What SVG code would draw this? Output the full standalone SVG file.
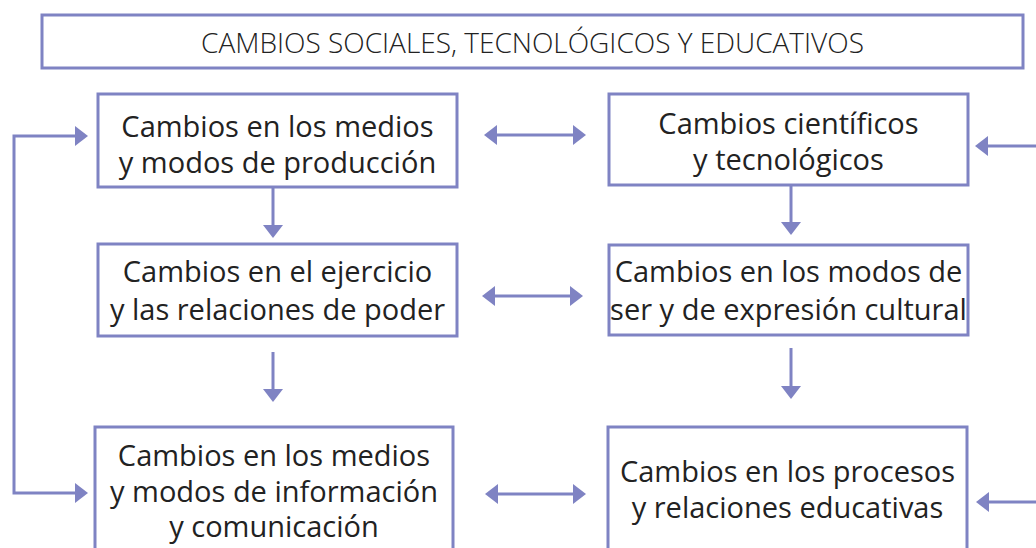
<svg xmlns="http://www.w3.org/2000/svg" width="1036" height="548" viewBox="0 0 1036 548">
<defs>
<style>
.box{fill:#fff;stroke:#7f83c3;stroke-width:3}
.t{font-family:"Open Sans","Liberation Sans",sans-serif;font-size:29px;fill:#222;text-anchor:middle}
.title{font-family:"Open Sans","Liberation Sans",sans-serif;font-weight:300;font-size:28px;fill:#222;text-anchor:middle}
.c{stroke:#7f83c3;stroke-width:3;fill:none}
.ah{fill:#7f83c3}
</style>
<marker id="a" markerUnits="userSpaceOnUse" markerWidth="14" markerHeight="20" refX="5" refY="10" orient="auto-start-reverse" viewBox="0 0 14 20">
<path class="ah" d="M0,0 L13,10 L0,20 z"/>
</marker>
</defs>
<rect width="1036" height="548" fill="#fff"/>
<g id="title">
<rect class="box" x="42" y="15" width="981" height="53"/>
<text class="title" x="532.5" y="53">CAMBIOS SOCIALES, TECNOLÓGICOS Y EDUCATIVOS</text>
</g>
<g id="connectors">
<line class="c" x1="492" y1="135" x2="578" y2="135" marker-start="url(#a)" marker-end="url(#a)"/>
<line class="c" x1="490" y1="296" x2="575" y2="296" marker-start="url(#a)" marker-end="url(#a)"/>
<line class="c" x1="493" y1="494" x2="578" y2="494" marker-start="url(#a)" marker-end="url(#a)"/>
<line class="c" x1="1040" y1="146" x2="983" y2="146" marker-end="url(#a)"/>
<line class="c" x1="1040" y1="502" x2="984" y2="502" marker-end="url(#a)"/>
<line class="c" x1="273" y1="187" x2="273" y2="230" marker-end="url(#a)"/>
<line class="c" x1="791" y1="185" x2="791" y2="227" marker-end="url(#a)"/>
<line class="c" x1="273" y1="352" x2="273" y2="394" marker-end="url(#a)"/>
<line class="c" x1="791" y1="348" x2="791" y2="391" marker-end="url(#a)"/>
<polyline class="c" points="80,136 14,136 14,493 80,493" marker-start="url(#a)" marker-end="url(#a)"/>
</g>
<g id="n1">
<rect class="box" x="98" y="94" width="359" height="93"/>
<text class="t" x="277.5" y="137">Cambios en los medios</text>
<text class="t" x="277.5" y="173">y modos de producción</text>
</g>
<g id="n2">
<rect class="box" x="609" y="94" width="359" height="91"/>
<text class="t" x="788.5" y="134">Cambios científicos</text>
<text class="t" x="788.5" y="170">y tecnológicos</text>
</g>
<g id="n3">
<rect class="box" x="98" y="244" width="359" height="92"/>
<text class="t" x="277.5" y="282">Cambios en el ejercicio</text>
<text class="t" x="277.5" y="320">y las relaciones de poder</text>
</g>
<g id="n4">
<rect class="box" x="609" y="245" width="359" height="90"/>
<text class="t" x="788.5" y="282">Cambios en los modos de</text>
<text class="t" x="788.5" y="320">ser y de expresión cultural</text>
</g>
<g id="n5">
<rect class="box" x="95" y="427" width="358" height="140"/>
<text class="t" x="274" y="466">Cambios en los medios</text>
<text class="t" x="274" y="502">y modos de información</text>
<text class="t" x="274" y="537">y comunicación</text>
</g>
<g id="n6">
<rect class="box" x="608" y="427" width="359" height="140"/>
<text class="t" x="787.5" y="482">Cambios en los procesos</text>
<text class="t" x="787.5" y="518">y relaciones educativas</text>
</g>
</svg>
